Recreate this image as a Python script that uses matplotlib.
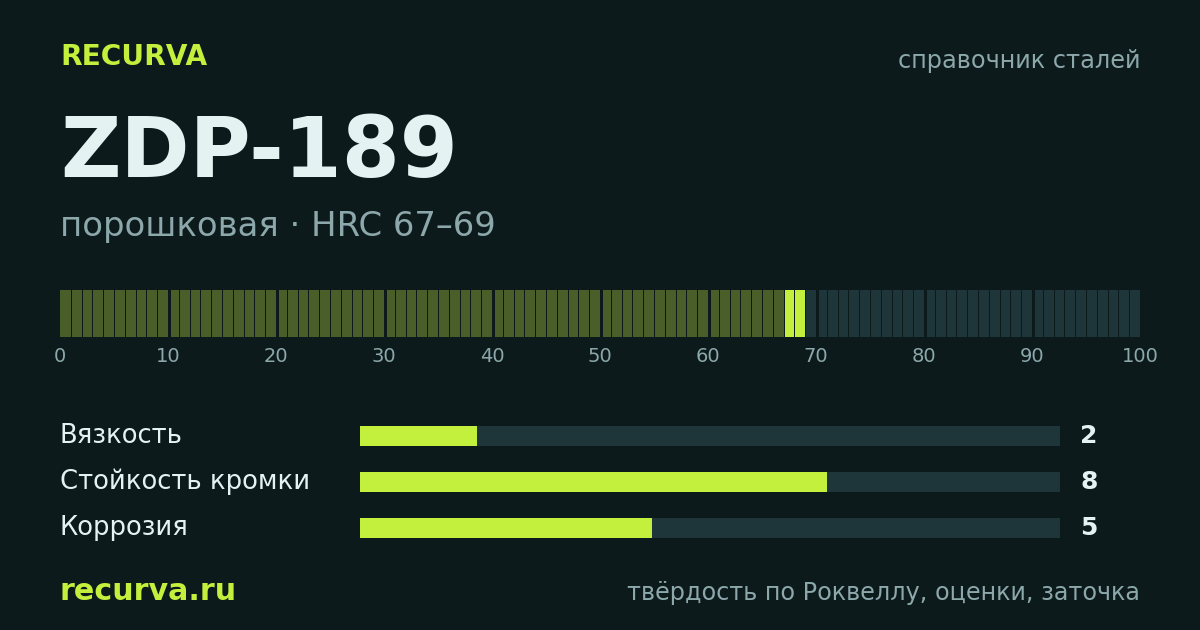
import matplotlib
matplotlib.use("Agg")
import matplotlib.pyplot as plt
from matplotlib.patches import Rectangle

# ---- data ----
brand = "RECURVA"
header_right = "справочник сталей"
steel_name = "ZDP-189"
subtitle = "порошковая · HRC 67–69"
hrc_low = 67
hrc_high = 69
scale_max = 100
scale_ticks = [0, 10, 20, 30, 40, 50, 60, 70, 80, 90, 100]
score_names = ["Вязкость", "Стойкость кромки", "Коррозия"]
score_values = [2, 8, 5]
score_max = 12
footer_left = "recurva.ru"
footer_right = "твёрдость по Роквеллу, оценки, заточка"

# ---- style ----
BG = "#0d1a1c"
LIME = "#c3f03c"
OLIVE = "#4a5e2a"
TRACK = "#1e3539"
TITLE = "#e4f2f2"
GREY = "#8ca8ab"
W, H = 1200, 630

fig = plt.figure(figsize=(12, 6.3), dpi=100, facecolor=BG)

def fx(x):
    return x / W

def fy(y):
    return 1 - y / H

def text(x, y, s, **kw):
    fig.text(fx(x), fy(y), s, family="DejaVu Sans", **kw)

text(60, 57, brand, color=LIME, fontsize=20.2, fontweight="bold", va="center", ha="left")
text(1140, 61, header_right, color=GREY, fontsize=17.3, va="center", ha="right")
text(60, 153, steel_name, color=TITLE, fontsize=60, fontweight="bold", va="center", ha="left")
text(60, 226, subtitle, color=GREY, fontsize=24.4, va="center", ha="left")
text(60, 592, footer_left, color=LIME, fontsize=21.7, fontweight="bold", va="center", ha="left")
text(1140, 593, footer_right, color=GREY, fontsize=17.2, va="center", ha="right")

# ---- hardness strip ----
ax = fig.add_axes([fx(60), fy(337), fx(1140) - fx(60), fy(290) - fy(337)])
ax.set_facecolor(BG)
ax.set_xlim(0, scale_max)
ax.set_ylim(0, 1)
px = scale_max / 1080.0
for i in range(scale_max):
    if i < hrc_low:
        c = OLIVE
    elif i < hrc_high:
        c = LIME
    else:
        c = TRACK
    if i == 0:
        gap = 0
    elif i % 10 == 0:
        gap = 2.5 * px
    else:
        gap = 1 * px
    ax.add_patch(Rectangle((i + gap, 0), 1 - gap, 1, facecolor=c, edgecolor="none"))
ax.set_yticks([])
ax.set_xticks(scale_ticks)
ax.set_xticklabels([str(t) for t in scale_ticks], color=GREY, fontsize=14, family="DejaVu Sans")
ax.tick_params(axis="x", length=0, pad=7)
for s in ax.spines.values():
    s.set_visible(False)

# ---- scores ----
row_y = [436, 482, 528]
bar_h = 20
for name, val, yc in zip(score_names, score_values, row_y):
    a = fig.add_axes([fx(360), fy(yc + bar_h / 2), fx(1060) - fx(360), fy(yc - bar_h / 2) - fy(yc + bar_h / 2)])
    a.set_xlim(0, score_max)
    a.set_ylim(0, 1)
    a.axis("off")
    a.barh(0.5, score_max, height=1, color=TRACK, left=0)
    a.barh(0.5, val, height=1, color=LIME, left=0)
    text(60, yc, name, color=TITLE, fontsize=18.6, va="center", ha="left")
    text(1080, yc, str(val), color=TITLE, fontsize=18, fontweight="bold", va="center", ha="left")

fig.savefig("out.png", dpi=100, facecolor=BG)
